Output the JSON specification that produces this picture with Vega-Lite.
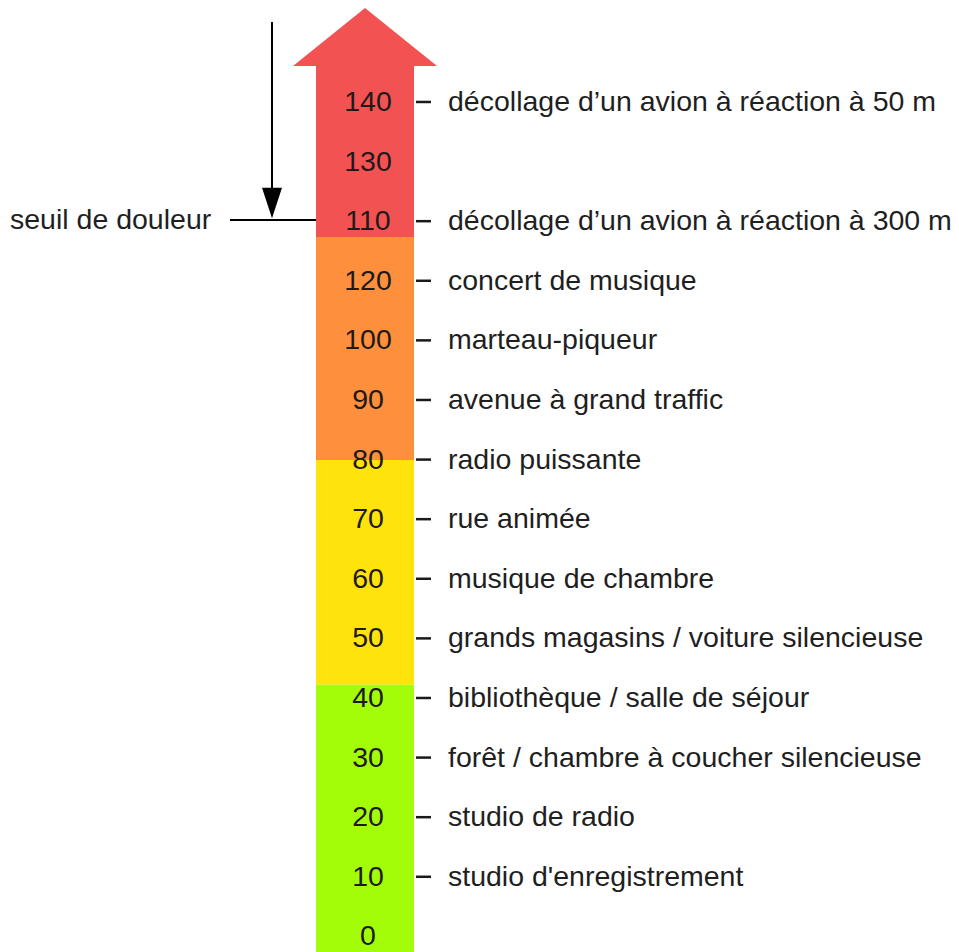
{
  "$schema": "https://vega.github.io/schema/vega-lite/v6.json",
  "width": 959,
  "height": 952,
  "padding": 0,
  "autosize": {"type": "fit", "contains": "padding"},
  "background": "white",
  "config": {"view": {"stroke": null}},
  "datasets": {
    "bands": [
      {"band": "rouge", "x": 316, "x2": 414, "y": -0.604, "y2": 2.265},
      {"band": "orange", "x": 316, "x2": 414, "y": 2.265, "y2": 6.007},
      {"band": "jaune", "x": 316, "x2": 414, "y": 6.007, "y2": 9.78},
      {"band": "vert", "x": 316, "x2": 414, "y": 9.78, "y2": 14.262}
    ],
    "head": [
      {"x": 293, "y": -0.604, "y2": -0.604},
      {"x": 365, "y": -1.577, "y2": -0.604},
      {"x": 437, "y": -0.604, "y2": -0.604}
    ],
    "rows": [
      {"pos": 0, "num": "140", "label": "décollage d’un avion à réaction à 50 m", "tick": true},
      {"pos": 1, "num": "130", "label": "", "tick": false},
      {"pos": 2, "num": "110", "label": "décollage d’un avion à réaction à 300 m", "tick": true},
      {"pos": 3, "num": "120", "label": "concert de musique", "tick": true},
      {"pos": 4, "num": "100", "label": "marteau-piqueur", "tick": true},
      {"pos": 5, "num": "90", "label": "avenue à grand traffic", "tick": true},
      {"pos": 6, "num": "80", "label": "radio puissante", "tick": true},
      {"pos": 7, "num": "70", "label": "rue animée", "tick": true},
      {"pos": 8, "num": "60", "label": "musique de chambre", "tick": true},
      {"pos": 9, "num": "50", "label": "grands magasins / voiture silencieuse", "tick": true},
      {"pos": 10, "num": "40", "label": "bibliothèque / salle de séjour", "tick": true},
      {"pos": 11, "num": "30", "label": "forêt / chambre à coucher silencieuse", "tick": true},
      {"pos": 12, "num": "20", "label": "studio de radio", "tick": true},
      {"pos": 13, "num": "10", "label": "studio d'enregistrement", "tick": true},
      {"pos": 14, "num": "0", "label": "", "tick": false}
    ],
    "seuil": [
      {"text": "seuil de douleur", "x": 10, "lx": 230, "lx2": 316, "pos": 1.98}
    ],
    "seuilArrow": [
      {"x": 272, "y": -1.342, "y2": 1.56}
    ],
    "seuilHead": [
      {"x": 262, "y": 1.44, "y2": 1.44},
      {"x": 272, "y": 1.95, "y2": 1.44},
      {"x": 282, "y": 1.44, "y2": 1.44}
    ]
  },
  "layer": [
    {
      "data": {"name": "bands"},
      "mark": {"type": "rect"},
      "encoding": {
        "x": {"field": "x", "type": "quantitative", "scale": {"domain": [0, 959], "nice": false, "zero": false}, "axis": null},
        "x2": {"field": "x2"},
        "y": {"field": "y", "type": "quantitative", "scale": {"domain": [-1.711, 14.262], "nice": false, "zero": false, "reverse": true}, "axis": null},
        "y2": {"field": "y2"},
        "color": {"field": "band", "type": "nominal", "legend": null,
          "scale": {"domain": ["rouge", "orange", "jaune", "vert"], "range": ["#f25252", "#fd8f3d", "#ffe30a", "#a3fc08"]}}
      }
    },
    {
      "data": {"name": "head"},
      "mark": {"type": "area", "color": "#f25252", "orient": "vertical"},
      "encoding": {
        "x": {"field": "x", "type": "quantitative"},
        "y": {"field": "y", "type": "quantitative"},
        "y2": {"field": "y2"}
      }
    },
    {
      "data": {"name": "rows"},
      "mark": {"type": "text", "font": "Liberation Sans", "fontSize": 28.5, "color": "#1f1a1a", "align": "center", "baseline": "middle"},
      "encoding": {
        "x": {"datum": 368, "type": "quantitative"},
        "y": {"field": "pos", "type": "quantitative"},
        "text": {"field": "num"}
      }
    },
    {
      "data": {"name": "rows"},
      "transform": [{"filter": "datum.tick"}],
      "mark": {"type": "rule", "stroke": "#1a1a1a", "strokeWidth": 2.5},
      "encoding": {
        "x": {"datum": 416, "type": "quantitative"},
        "x2": {"datum": 431},
        "y": {"field": "pos", "type": "quantitative"}
      }
    },
    {
      "data": {"name": "rows"},
      "transform": [{"filter": "datum.tick"}],
      "mark": {"type": "text", "font": "Liberation Sans", "fontSize": 28.5, "color": "#1f1f1f", "align": "left", "baseline": "middle"},
      "encoding": {
        "x": {"datum": 448, "type": "quantitative"},
        "y": {"field": "pos", "type": "quantitative"},
        "text": {"field": "label"}
      }
    },
    {
      "data": {"name": "seuil"},
      "mark": {"type": "text", "font": "Liberation Sans", "fontSize": 28.5, "color": "#1f1f1f", "align": "left", "baseline": "middle"},
      "encoding": {
        "x": {"field": "x", "type": "quantitative"},
        "y": {"field": "pos", "type": "quantitative"},
        "text": {"field": "text"}
      }
    },
    {
      "data": {"name": "seuil"},
      "mark": {"type": "rule", "stroke": "black", "strokeWidth": 2},
      "encoding": {
        "x": {"field": "lx", "type": "quantitative"},
        "x2": {"field": "lx2"},
        "y": {"field": "pos", "type": "quantitative"}
      }
    },
    {
      "data": {"name": "seuilArrow"},
      "mark": {"type": "rule", "stroke": "black", "strokeWidth": 2},
      "encoding": {
        "x": {"field": "x", "type": "quantitative"},
        "y": {"field": "y", "type": "quantitative"},
        "y2": {"field": "y2"}
      }
    },
    {
      "data": {"name": "seuilHead"},
      "mark": {"type": "area", "color": "black", "orient": "vertical"},
      "encoding": {
        "x": {"field": "x", "type": "quantitative"},
        "y": {"field": "y", "type": "quantitative"},
        "y2": {"field": "y2"}
      }
    }
  ]
}
